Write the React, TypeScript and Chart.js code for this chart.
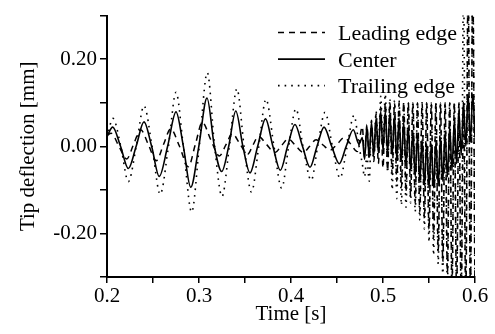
import React, { useEffect, useRef } from "react";
import { Chart, registerables } from "chart.js";

Chart.register(...registerables);

const SERIES_LABELS = ["Leading edge", "Center", "Trailing edge"];

// Regular oscillation part (extrema and crossings)
const leadingTime = [
  0.2, 0.2045, 0.213, 0.2214, 0.229, 0.2366, 0.2451, 0.2536, 0.2614, 0.2692,
  0.2788, 0.2884, 0.296, 0.3036, 0.3128, 0.3221, 0.3292, 0.3362, 0.3446, 0.3529,
  0.3587, 0.3645, 0.3735, 0.3826, 0.3898, 0.3971, 0.4052, 0.4134, 0.4203, 0.4272,
  0.4348, 0.4424, 0.4502, 0.458, 0.465, 0.472,
];
const leadingValues = [
  0.025, 0.03, 0.0, -0.029, 0.005, 0.038, 0.003, -0.033, 0.004, 0.04,
  0.0, -0.047, 0.004, 0.055, 0.015, -0.022, 0.003, 0.029, 0.005, -0.018,
  0.003, 0.023, 0.004, -0.014, 0.002, 0.017, 0.001, -0.014, 0.0, 0.015,
  0.003, -0.009, 0.005, 0.02, 0.005, -0.012,
];

const centerTime = [
  0.2, 0.2062, 0.2147, 0.2232, 0.2317, 0.2402, 0.2485, 0.2568, 0.2659, 0.275,
  0.283, 0.291, 0.2998, 0.3087, 0.3167, 0.3247, 0.3323, 0.34, 0.3477, 0.3554,
  0.3638, 0.3723, 0.3803, 0.3884, 0.3963, 0.4043, 0.4125, 0.4207, 0.4283, 0.4359,
  0.4442, 0.4525, 0.46, 0.4677, 0.474,
];
const centerValues = [
  0.023, 0.044, 0.0, -0.051, 0.0, 0.056, 0.0, -0.069, 0.0, 0.079,
  0.0, -0.094, 0.0, 0.111, 0.0, -0.058, 0.0, 0.081, 0.0, -0.061,
  0.0, 0.063, 0.0, -0.055, 0.0, 0.05, 0.0, -0.048, 0.0, 0.044,
  0.0, -0.04, 0.0, 0.038, 0.005,
];

const trailingTime = [
  0.2, 0.2065, 0.215, 0.2232, 0.2318, 0.2402, 0.249, 0.2578, 0.2668, 0.275,
  0.283, 0.292, 0.3003, 0.309, 0.317, 0.325, 0.333, 0.3412, 0.349, 0.357,
  0.365, 0.3728, 0.3815, 0.3898, 0.3975, 0.4054, 0.413, 0.422, 0.429, 0.437,
  0.445, 0.4533, 0.461, 0.4685, 0.474,
];
const trailingValues = [
  0.02, 0.064, 0.0, -0.081, 0.0, 0.093, 0.0, -0.11, 0.0, 0.124,
  0.0, -0.151, 0.0, 0.169, 0.0, -0.115, 0.0, 0.132, 0.0, -0.105,
  0.0, 0.108, 0.0, -0.096, 0.0, 0.086, 0.0, -0.078, 0.0, 0.078,
  0.0, -0.073, 0.0, 0.071, 0.0,
];

// Unstable (high-frequency) part, shared time base
const chaosTime = [
  0.4775, 0.48, 0.4825, 0.485, 0.4875, 0.49, 0.4925, 0.495, 0.4975, 0.5,
  0.5025, 0.505, 0.5075, 0.51, 0.5125, 0.515, 0.5175, 0.52, 0.5225, 0.525,
  0.5275, 0.53, 0.5325, 0.535, 0.5375, 0.54, 0.5425, 0.545, 0.5475, 0.55,
  0.5525, 0.555, 0.5575, 0.56, 0.5625, 0.565, 0.5675, 0.57, 0.5725, 0.575,
  0.5775, 0.58, 0.5825, 0.585, 0.5875, 0.59, 0.5925, 0.595, 0.5975, 0.6,
];
const leadingChaos = [
  0.045, -0.025, 0.05, -0.03, 0.06, -0.035, 0.075, -0.04, 0.09, -0.05,
  0.1, -0.055, 0.1, -0.065, 0.1, -0.08, 0.1, -0.095, 0.1, -0.105,
  0.1, -0.115, 0.1, -0.13, 0.1, -0.15, 0.1, -0.165, 0.1, -0.19,
  0.1, -0.21, 0.1, -0.24, 0.1, -0.265, 0.1, -0.29, 0.1, -0.32,
  0.1, -0.34, 0.1, -0.35, 0.1, -0.35, 0.38, -0.35, 0.38, -0.35,
];
const centerChaos = [
  0.02, -0.03, 0.045, -0.025, 0.055, -0.02, 0.065, -0.015, 0.08, -0.01,
  0.08, -0.015, 0.075, -0.02, 0.07, -0.03, 0.065, -0.035, 0.055, -0.045,
  0.045, -0.055, 0.035, -0.07, 0.025, -0.08, 0.015, -0.09, 0.005, -0.095,
  0.005, -0.095, 0.01, -0.09, 0.02, -0.08, 0.03, -0.07, 0.045, -0.055,
  0.06, -0.04, 0.08, -0.02, 0.1, 0.0, 0.12, 0.01, 0.12, 0.02,
];
const trailingChaos = [
  -0.04, -0.07, -0.02, -0.08, 0.04, -0.03, 0.08, -0.01, 0.115, 0.0,
  0.12, -0.06, 0.11, -0.1, 0.105, -0.12, 0.105, -0.135, 0.1, -0.14,
  0.1, -0.13, 0.1, -0.15, 0.1, -0.17, 0.1, -0.19, 0.1, -0.22,
  0.1, -0.25, 0.1, -0.27, 0.1, -0.3, 0.1, -0.32, 0.1, -0.33,
  0.1, -0.34, 0.1, -0.34, 0.38, -0.34, 0.38, -0.34, 0.38, -0.34,
];

const X_MIN = 0.2;
const X_MAX = 0.6;
const Y_MIN = -0.3;
const Y_MAX = 0.3;

const FONT = '"Liberation Serif", "Times New Roman", serif';

function toPoints(t1: number[], v1: number[], t2: number[], v2: number[]) {
  const pts = t1.map((t, i) => ({ x: t, y: v1[i] }));
  return pts.concat(t2.map((t, i) => ({ x: t, y: v2[i] })));
}

const legendPlugin = {
  id: "lineLegend",
  afterDatasetsDraw(chart: any) {
    const ctx = chart.ctx;
    const area = chart.chartArea;
    const x0 = area.right - 197;
    const x1 = area.right - 150;
    const tx = area.right - 137;
    const y0 = area.top + 17;
    const row = 26.5;
    ctx.save();
    chart.data.datasets.forEach((d: any, i: number) => {
      const y = y0 + i * row;
      ctx.beginPath();
      ctx.setLineDash(d.borderDash || []);
      ctx.lineWidth = d.borderWidth;
      ctx.strokeStyle = d.borderColor;
      ctx.moveTo(x0, y);
      ctx.lineTo(x1, y);
      ctx.stroke();
      ctx.setLineDash([]);
      ctx.font = `22px ${FONT}`;
      ctx.fillStyle = "#000";
      ctx.textBaseline = "alphabetic";
      ctx.textAlign = "left";
      ctx.fillText(d.label, tx, y + 7.7);
    });
    ctx.restore();
  },
};

export default function App() {
  const ref = useRef<HTMLCanvasElement | null>(null);

  useEffect(() => {
    if (!ref.current) return;
    const common = {
      borderColor: "#000",
      pointRadius: 0,
      fill: false,
      cubicInterpolationMode: "monotone" as const,
    };
    const chart = new Chart(ref.current, {
      type: "line",
      data: {
        datasets: [
          {
            ...common,
            label: SERIES_LABELS[0],
            data: toPoints(leadingTime, leadingValues, chaosTime, leadingChaos),
            borderWidth: 1.5,
            borderDash: [6, 5],
          },
          {
            ...common,
            label: SERIES_LABELS[1],
            data: toPoints(centerTime, centerValues, chaosTime, centerChaos),
            borderWidth: 1.6,
            borderDash: [],
          },
          {
            ...common,
            label: SERIES_LABELS[2],
            data: toPoints(trailingTime, trailingValues, chaosTime, trailingChaos),
            borderWidth: 1.6,
            borderDash: [1.6, 5],
          },
        ],
      },
      options: {
        animation: false,
        responsive: false,
        devicePixelRatio: 1,
        layout: { padding: { top: 7, right: 20, left: 0, bottom: 0 } },
        plugins: {
          legend: { display: false },
          tooltip: { enabled: false },
          title: { display: false },
        },
        scales: {
          x: {
            type: "linear",
            min: X_MIN,
            max: X_MAX,
            afterFit: (s: any) => {
              s.height = 57;
            },
            border: { display: true, color: "#000", width: 2 },
            grid: {
              display: true,
              drawOnChartArea: false,
              drawTicks: true,
              tickLength: 6,
              color: "#000",
              lineWidth: 1.5,
            },
            ticks: {
              stepSize: 0.05,
              color: "#000",
              padding: 1,
              maxRotation: 0,
              autoSkip: false,
              font: { family: FONT, size: 21 },
              callback: (v: any) => {
                const n = Math.round(Number(v) * 100);
                return n % 10 === 0 ? (n / 100).toFixed(1) : "";
              },
            },
            title: {
              display: true,
              text: "Time [s]",
              color: "#000",
              font: { family: FONT, size: 21 },
              padding: { top: 7, bottom: 7 },
            },
          },
          y: {
            type: "linear",
            min: Y_MIN,
            max: Y_MAX,
            afterFit: (s: any) => {
              s.width = 107;
            },
            border: { display: true, color: "#000", width: 2 },
            grid: {
              display: true,
              drawOnChartArea: false,
              drawTicks: true,
              tickLength: 7,
              color: "#000",
              lineWidth: 1.5,
            },
            ticks: {
              stepSize: 0.1,
              color: "#000",
              padding: 3,
              autoSkip: false,
              font: { family: FONT, size: 21 },
              callback: (v: any) => {
                const n = Math.round(Number(v) * 10);
                return n % 2 === 0 ? (n / 10).toFixed(2) : "";
              },
            },
            title: {
              display: true,
              text: "Tip deflection [mm]",
              color: "#000",
              font: { family: FONT, size: 21 },
              padding: { top: 16, bottom: 0 },
            },
          },
        },
      },
      plugins: [legendPlugin],
    });
    return () => chart.destroy();
  }, []);

  return (
    <div style={{ position: "fixed", left: 0, top: 0, width: 495, height: 334, background: "#fff" }}>
      <canvas ref={ref} width={495} height={334} style={{ width: 495, height: 334, display: "block" }} />
    </div>
  );
}
